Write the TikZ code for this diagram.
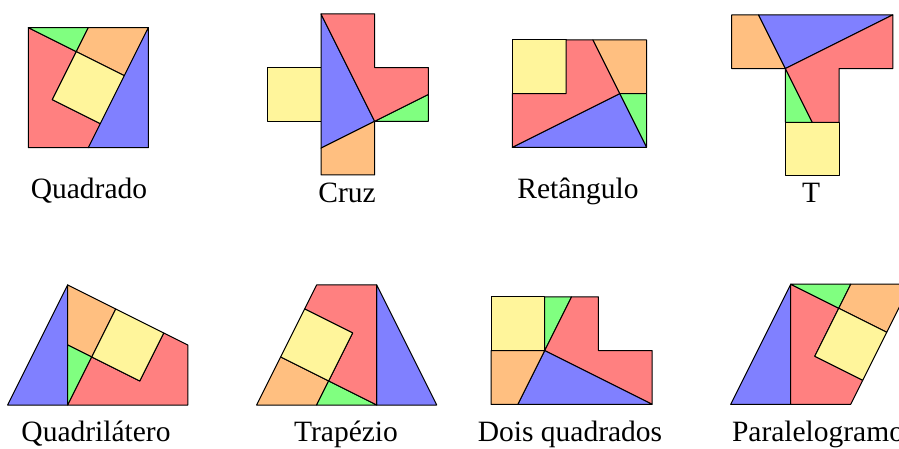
\documentclass[tikz,border=0pt]{standalone}
\usepackage{fontspec}
\setmainfont{Liberation Serif}
\definecolor{pred}{RGB}{255,128,128}
\definecolor{pblue}{RGB}{128,128,255}
\definecolor{pgreen}{RGB}{128,255,128}
\definecolor{porange}{RGB}{255,191,128}
\definecolor{pyellow}{RGB}{255,245,155}
\def\s{2.23607}
\def\h{1.11803}
\def\pa{0.447214}
\def\pb{0.894427}
\def\pc{1.341641}
\def\pd{1.788854}
\tikzset{
  piece/.style={draw=black, line width=1pt, line join=round},
  rp/.style={piece, fill=pred},
  bp/.style={piece, fill=pblue},
  gp/.style={piece, fill=pgreen},
  op/.style={piece, fill=porange},
  yp/.style={piece, fill=pyellow},
  lbl/.style={anchor=base, inner sep=0pt, font=\fontsize{29.5}{31}\selectfont},
  fig/.style={x=53.7pt, y=53.7pt}
}
\begin{document}
\begin{tikzpicture}[x=1pt, y=-1pt]
\useasboundingbox (0,0) rectangle (899,449);
\clip (0,0) rectangle (899,449);
% Quadrado
\begin{scope}[shift={(28.3,147.7)}, fig]
  \coordinate (A) at (\pb,\pd); \coordinate (B) at (\pd,\pc);
  \coordinate (C) at (\pc,\pa); \coordinate (D) at (\pa,\pb);
  \draw[rp] (0,\s) -- (A) -- (D) -- (C) -- (\h,0) -- (0,0) -- cycle;
  \draw[gp] (0,\s) -- (\h,\s) -- (A) -- cycle;
  \draw[op] (\h,\s) -- (\s,\s) -- (B) -- (A) -- cycle;
  \draw[yp] (A) -- (B) -- (C) -- (D) -- cycle;
  \draw[bp] (\s,\s) -- (\s,0) -- (\h,0) -- cycle;
\end{scope}
% Cruz
\begin{scope}[shift={(267.3,175)}, fig]
  \draw[yp] (0,1) rectangle (1,2);
  \draw[bp] (1,3) -- (1,0.5) -- (2,1) -- cycle;
  \draw[op] (1,0) -- (1,0.5) -- (2,1) -- (2,0) -- cycle;
  \draw[gp] (2,1) -- (3,1) -- (3,1.5) -- cycle;
  \draw[rp] (1,3) -- (2,3) -- (2,2) -- (3,2) -- (3,1.5) -- (2,1) -- cycle;
\end{scope}
% Retangulo
\begin{scope}[shift={(512.3,147.3)}, fig]
  \draw[yp] (0,1) rectangle (1,2);
  \draw[op] (1.5,2) -- (2.5,2) -- (2.5,1) -- (2,1) -- cycle;
  \draw[gp] (2,1) -- (2.5,1) -- (2.5,0) -- cycle;
  \draw[bp] (0,0) -- (2.5,0) -- (2,1) -- cycle;
  \draw[rp] (0,0) -- (0,1) -- (1,1) -- (1,2) -- (1.5,2) -- (2,1) -- cycle;
\end{scope}
% T
\begin{scope}[shift={(731.7,176)}, fig]
  \draw[yp] (1,0) rectangle (2,1);
  \draw[op] (0,2) -- (0,3) -- (0.5,3) -- (1,2) -- cycle;
  \draw[bp] (0.5,3) -- (3,3) -- (1,2) -- cycle;
  \draw[gp] (1,2) -- (1,1) -- (1.5,1) -- cycle;
  \draw[rp] (1,2) -- (3,3) -- (3,2) -- (2,2) -- (2,1) -- (1.5,1) -- cycle;
\end{scope}
% Quadrilatero
\begin{scope}[shift={(67.7,405)}, fig]
  \coordinate (A) at (\pb,\pd); \coordinate (B) at (\pd,\pc);
  \coordinate (C) at (\pc,\pa); \coordinate (D) at (\pa,\pb);
  \draw[bp] (-\h,0) -- (0,\s) -- (0,0) -- cycle;
  \draw[op] (0,\s) -- (A) -- (D) -- (0,\h) -- cycle;
  \draw[gp] (0,\h) -- (D) -- (0,0) -- cycle;
  \draw[rp] (0,0) -- (\s,0) -- (\s,\h) -- (B) -- (C) -- (D) -- cycle;
  \draw[yp] (A) -- (B) -- (C) -- (D) -- cycle;
\end{scope}
% Trapezio
\begin{scope}[shift={(376.7,405)}, fig]
  \coordinate (Q1) at (-\pd,\pb); \coordinate (Q2) at (-\pb,\pa);
  \coordinate (Q3) at (-\pa,\pc); \coordinate (Q4) at (-\pc,\pd);
  \draw[bp] (0,\s) -- (0,0) -- (\h,0) -- cycle;
  \draw[op] (-\s,0) -- (Q1) -- (Q2) -- (-\h,0) -- cycle;
  \draw[gp] (-\h,0) -- (Q2) -- (0,0) -- cycle;
  \draw[rp] (-\h,\s) -- (0,\s) -- (0,0) -- (Q2) -- (Q3) -- (Q4) -- cycle;
  \draw[yp] (Q1) -- (Q2) -- (Q3) -- (Q4) -- cycle;
\end{scope}
% Dois quadrados
\begin{scope}[shift={(491,404.3)}, fig]
  \draw[yp] (0,1) rectangle (1,2);
  \draw[gp] (1,1) -- (1,2) -- (1.5,2) -- cycle;
  \draw[rp] (1.5,2) -- (2,2) -- (2,1) -- (3,1) -- (3,0) -- (1,1) -- cycle;
  \draw[bp] (1,1) -- (3,0) -- (0.5,0) -- cycle;
  \draw[op] (0,0) -- (0.5,0) -- (1,1) -- (0,1) -- cycle;
\end{scope}
% Paralelogramo
\begin{scope}[shift={(790.7,404.3)}, fig]
  \coordinate (A) at (\pb,\pd); \coordinate (B) at (\pd,\pc);
  \coordinate (C) at (\pc,\pa); \coordinate (D) at (\pa,\pb);
  \draw[bp] (-\h,0) -- (0,\s) -- (0,0) -- cycle;
  \draw[rp] (0,\s) -- (A) -- (D) -- (C) -- (\h,0) -- (0,0) -- cycle;
  \draw[gp] (0,\s) -- (\h,\s) -- (A) -- cycle;
  \draw[op] (\h,\s) -- (\s,\s) -- (B) -- (A) -- cycle;
  \draw[yp] (A) -- (B) -- (C) -- (D) -- cycle;
\end{scope}
% labels
\node[lbl] (l1) at (89,199) {Quadrado};
\node[lbl] (l2) at (347,203) {Cruz};
\node[lbl] (l3) at (578,199) {Retângulo};
\node[lbl] (l4) at (811,203) {T};
\node[lbl] (l5) at (96,441) {Quadrilátero};
\node[lbl] (l6) at (346,441) {Trapézio};
\node[lbl] (l7) at (570,441) {Dois quadrados};
\node[lbl] (l8) at (818,441) {Paralelogramo};
\end{tikzpicture}
\end{document}
